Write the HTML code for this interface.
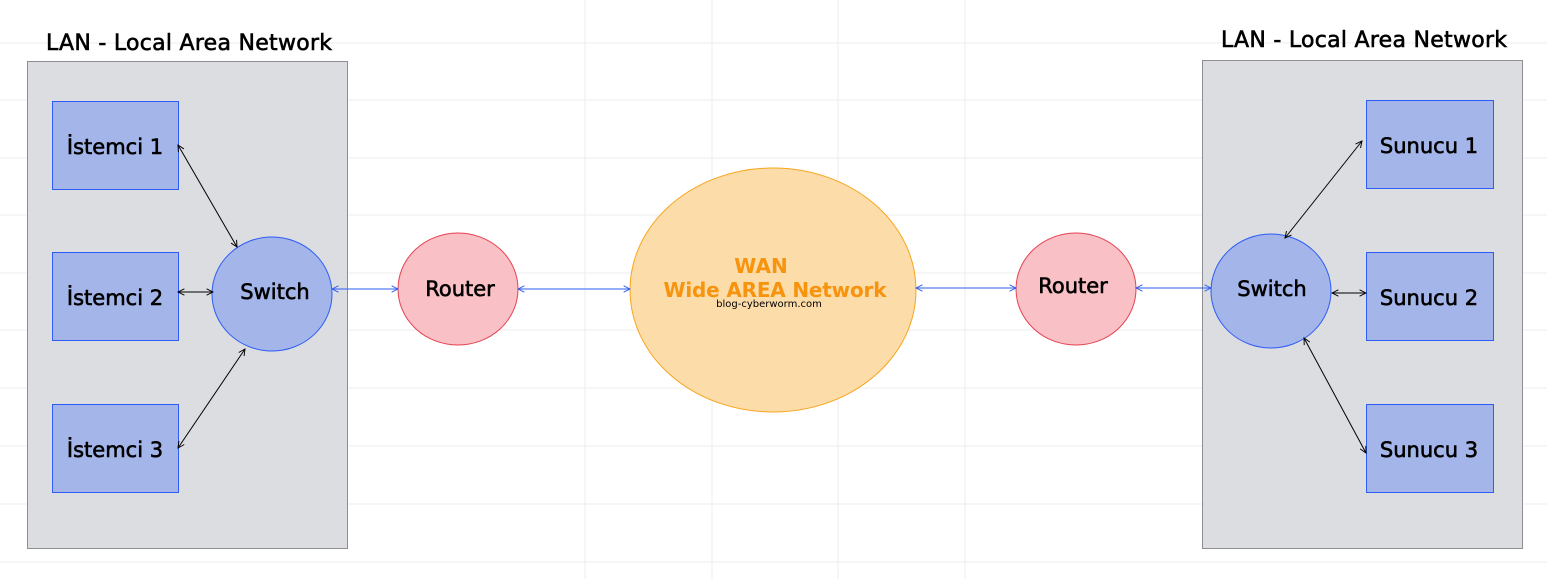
<!DOCTYPE html>
<html><head><style>body{margin:0;background:#fff}svg{display:block}text{font-family:"DejaVu Sans","Liberation Sans",sans-serif}</style></head><body>
<svg width="1547" height="579" viewBox="0 0 1547 579" xmlns="http://www.w3.org/2000/svg">
<defs>
<marker id="ab" viewBox="0 0 10 10" refX="9" refY="5" markerWidth="8" markerHeight="8" orient="auto-start-reverse"><path d="M1,1 L9,5 L1,9" fill="none" stroke="#000" stroke-width="1.2"/></marker>
<marker id="au" viewBox="0 0 10 10" refX="9" refY="5" markerWidth="8" markerHeight="8" orient="auto-start-reverse"><path d="M1,1 L9,5 L1,9" fill="none" stroke="#2d5cf6" stroke-width="1.2"/></marker>
</defs>
<g stroke="#ececec" stroke-width="1">
<line x1="0" y1="43" x2="1547" y2="43"/><line x1="0" y1="100" x2="1547" y2="100"/><line x1="0" y1="158" x2="1547" y2="158"/><line x1="0" y1="215" x2="1547" y2="215"/><line x1="0" y1="273" x2="1547" y2="273"/><line x1="0" y1="330" x2="1547" y2="330"/><line x1="0" y1="388" x2="1547" y2="388"/><line x1="0" y1="446" x2="1547" y2="446"/><line x1="0" y1="504" x2="1547" y2="504"/><line x1="0" y1="562" x2="1547" y2="562"/>
<line x1="585" y1="0" x2="585" y2="579"/><line x1="712" y1="0" x2="712" y2="579"/><line x1="838" y1="0" x2="838" y2="579"/><line x1="965" y1="0" x2="965" y2="579"/>
</g>
<rect x="27.5" y="61.5" width="320" height="487" fill="#dcdde1" stroke="#8f8f93"/>
<rect x="1202.5" y="60.5" width="320" height="488" fill="#dcdde1" stroke="#8f8f93"/>
<g stroke="#000" stroke-width="0.6">
<text x="189" y="50" font-size="22" text-anchor="middle" textLength="286">LAN - Local Area Network</text>
<text x="1364" y="47" font-size="22" text-anchor="middle" textLength="286">LAN - Local Area Network</text>
</g>
<g fill="#a4b5ea" stroke="#2d5cf6">
<rect x="52.5" y="101.5" width="126" height="88"/><rect x="52.5" y="252.5" width="126" height="88"/><rect x="52.5" y="404.5" width="126" height="88"/>
<rect x="1366.5" y="100.5" width="127" height="88"/><rect x="1366.5" y="252.5" width="127" height="88"/><rect x="1366.5" y="404.5" width="127" height="88"/>
<ellipse cx="272" cy="294" rx="60" ry="57"/><ellipse cx="1271" cy="291" rx="60" ry="57"/>
</g>
<g fill="#f9c0c5" stroke="#e5414f"><ellipse cx="458" cy="289" rx="60" ry="56"/><ellipse cx="1076" cy="289" rx="60" ry="56"/></g>
<ellipse cx="773" cy="290" rx="143" ry="122" fill="#fcdca9" stroke="#f7a51d"/>
<g font-size="21" text-anchor="middle" fill="#000" stroke="#000" stroke-width="0.6">
<text x="115" y="154">İstemci 1</text><text x="115" y="305">İstemci 2</text><text x="115" y="457">İstemci 3</text>
<text x="1429" y="153">Sunucu 1</text><text x="1429" y="305">Sunucu 2</text><text x="1429" y="457">Sunucu 3</text>
<text x="275" y="299">Switch</text><text x="1272" y="296">Switch</text>
<text x="460" y="296">Router</text><text x="1073" y="293">Router</text>
</g>
<text x="761" y="273" font-size="20" font-weight="bold" fill="#f7930d" text-anchor="middle">WAN</text>
<text x="775" y="297" font-size="20" font-weight="bold" fill="#f7930d" text-anchor="middle" textLength="223">Wide AREA Network</text>
<text x="769" y="307" font-size="10" text-anchor="middle">blog-cyberworm.com</text>
<g stroke="#000" stroke-width="1" marker-start="url(#ab)" marker-end="url(#ab)">
<line x1="178" y1="145" x2="237" y2="247"/><line x1="178" y1="292" x2="213" y2="292"/><line x1="178" y1="448" x2="245" y2="349"/>
<line x1="1362" y1="141" x2="1285" y2="238"/><line x1="1332" y1="293" x2="1366" y2="293"/><line x1="1304" y1="338" x2="1366" y2="453"/>
</g>
<g stroke="#2d5cf6" stroke-width="1" marker-start="url(#au)" marker-end="url(#au)">
<line x1="332" y1="289" x2="398" y2="289"/><line x1="518" y1="289" x2="630" y2="289"/><line x1="916" y1="288" x2="1016" y2="288"/><line x1="1136" y1="288" x2="1211" y2="288"/>
</g>
</svg>
</body></html>
